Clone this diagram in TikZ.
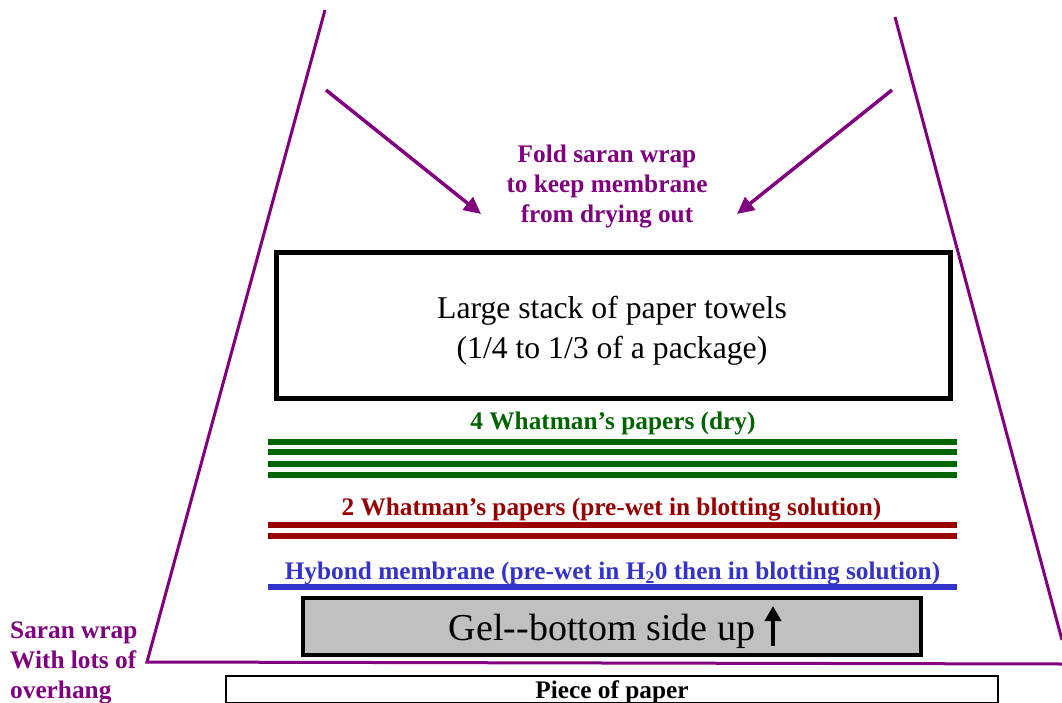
\documentclass[tikz,border=0pt]{standalone}
\usepackage{fontspec}
\setmainfont{Liberation Serif}
\usetikzlibrary{arrows.meta}
\definecolor{wrapc}{RGB}{128,0,128}
\definecolor{dryc}{RGB}{0,100,0}
\definecolor{wetc}{RGB}{153,0,0}
\definecolor{memc}{RGB}{51,51,204}
\definecolor{gelc}{RGB}{192,192,192}
\begin{document}
\begin{tikzpicture}[x=1pt,y=-1pt,
  bfont/.style={font=\fontsize{25.3}{30}\selectfont\bfseries, inner sep=0pt},
  wrapline/.style={draw=wrapc, line width=3pt},
  foldarrow/.style={wrapc, line width=3.5pt, -{Triangle[length=17pt,width=16pt]}},
  dryline/.style={draw=dryc, line width=6pt},
  wetline/.style={draw=wetc, line width=6pt},
  memline/.style={draw=memc, line width=6pt},
]
\useasboundingbox (0,0) rectangle (1062,703);
% saran wrap outline
\coordinate (tl) at (325,10);
\coordinate (bl) at (147,662);
\coordinate (br) at (1062,664);
\coordinate (tr) at (895,17);
\coordinate (rr) at (1062,640);
\draw[wrapline, line join=miter] (tl) -- (bl) -- (br);
\draw[wrapline] (tr) -- (rr);
% fold text and arrows
\node[bfont, text=wrapc, align=center] (fold) at (607,187) {Fold saran wrap\\to keep membrane\\from drying out};
\coordinate (a1s) at (326,90);
\coordinate (a1e) at (481,214);
\coordinate (a2s) at (892,90);
\coordinate (a2e) at (737,214);
\draw[foldarrow] (a1s) -- (a1e);
\draw[foldarrow] (a2s) -- (a2e);
% paper towels
\node[draw, line width=5pt, minimum width=674pt, minimum height=145pt, inner sep=0pt] (towels) at (613,325.5) {};
\node[font=\fontsize{31.7}{40}\selectfont, align=center, inner sep=0pt] (towelstxt) at (612,330.5) {Large stack of paper towels\\(1/4 to 1/3 of a package)};
% dry whatman
\node[bfont, text=dryc] (drytxt) at (613,423) {4 Whatman’s papers (dry)};
\draw[dryline] (268,441.5) -- (957,441.5);
\draw[dryline] (268,452) -- (957,452);
\draw[dryline] (268,464) -- (957,464);
\draw[dryline] (268,474.5) -- (957,474.5);
% wet whatman
\node[bfont, text=wetc] (wettxt) at (611.5,509.5) {2 Whatman’s papers (pre-wet in blotting solution)};
\draw[wetline] (268,524.5) -- (957,524.5);
\draw[wetline] (268,535.5) -- (957,535.5);
% membrane
\node[bfont, text=memc] (memtxt) at (612.5,574) {Hybond membrane (pre-wet in H\textsubscript{2}0 then in blotting solution)};
\draw[memline] (268,587) -- (957,587);
% gel
\node[draw, fill=gelc, line width=4pt, minimum width=618pt, minimum height=57pt, inner sep=0pt] (gel) at (612,626.5) {};
\node[font=\fontsize{38}{44}\selectfont, inner sep=0pt] (geltxt) at (602,631) {Gel-{}-bottom side up};
\coordinate (gas) at (773,646);
\coordinate (gae) at (773,606);
\draw[line width=4pt, -{Triangle[length=15pt,width=16pt]}] (gas) -- (gae);
% piece of paper
\node[draw, line width=2pt, minimum width=772pt, minimum height=27pt, inner sep=0pt] (paper) at (612,689.5) {};
\node[bfont] (papertxt) at (612,692) {Piece of paper};
% saran label
\node[bfont, text=wrapc, align=left, anchor=west] (saran) at (10,662.5) {Saran wrap\\With lots of\\overhang};
\end{tikzpicture}
\end{document}
